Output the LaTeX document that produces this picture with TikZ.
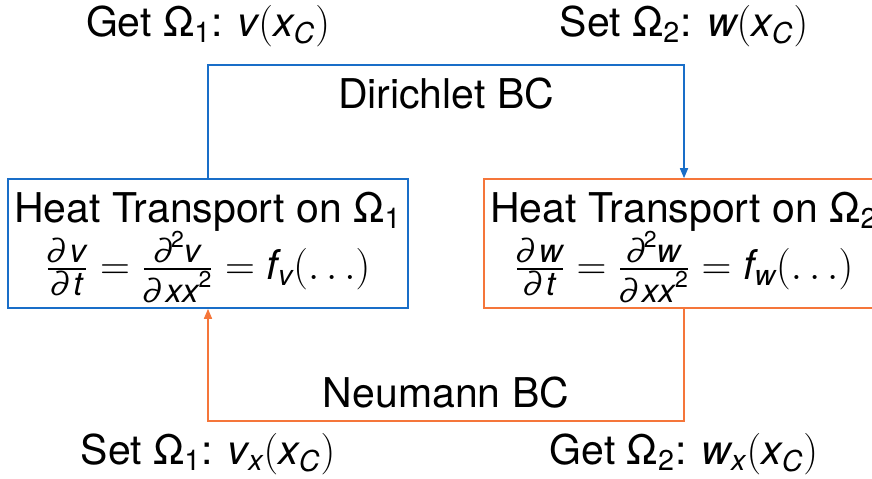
\documentclass[tikz,border=0pt]{standalone}
\usepackage{amsmath}
\usepackage{fontspec}
\setmainfont{TeX Gyre Heros}
\usetikzlibrary{arrows.meta}
\definecolor{bcblue}{RGB}{25,110,200}
\definecolor{bcorange}{RGB}{245,118,58}
% sans italic letters inside math
\newcommand\mv[1]{\text{\itshape #1}}
\newcommand\sub[1]{_{\text{#1}}}
% fraction parts in a slightly larger sans italic
\newcommand\fp[1]{\text{\fontsize{16.5}{18}\selectfont\itshape #1}}
\newcommand\sq{\raisebox{0.45em}{\fontsize{11.5}{12}\selectfont\upshape 2}}
\begin{document}
\begin{tikzpicture}[x=0.5pt,y=-0.5pt,
  every node/.style={font=\fontsize{20.5}{24}\selectfont},
  solver/.style={draw,line width=0.8pt,minimum width=200pt,minimum height=64.5pt,inner sep=0pt},
  solvertext/.style={inner sep=0pt,align=center},
  link/.style={line width=0.8pt,-{Triangle[length=5pt,width=4pt]}},
  lbl/.style={inner sep=0pt,anchor=base}]
\useasboundingbox (0,0) rectangle (872,478);
\clip (0,0) rectangle (872,478);
\fill[white] (0,0) rectangle (872,478);

% the two solver boxes
\node[solver,draw=bcblue] (h1) at (208,243.5) {};
\node[solver,draw=bcorange] (h2) at (684,243.5) {};
\node[solvertext] (h1t) at (208,247.5)
  {Heat Transport on Ω$\sub{1}$\\[-1pt]
   $\frac{\fp{∂\,v}}{\fp{∂\,t}}=\frac{\fp{∂\sq v}}{\fp{∂\,xx\sq}}=\mv{f}\sub{\itshape v}(\ldots)$};
\node[solvertext] (h2t) at (684,247.5)
  {Heat Transport on Ω$\sub{2}$\\[-1pt]
   $\frac{\fp{∂\,w}}{\fp{∂\,t}}=\frac{\fp{∂\sq w}}{\fp{∂\,xx\sq}}=\mv{f}\sub{\itshape w}(\ldots)$};

% coupling connectors
\coordinate (dtop) at (0,65);
\coordinate (nbot) at (0,421);
\draw[link,bcblue] (h1.north) |- (dtop -| h2.north) -- (h2.north);
\draw[link,bcorange] (h2.south) |- (nbot -| h1.south) -- (h1.south);

\node[lbl] (dir) at (446,108) {Dirichlet BC};
\node[lbl] (neu) at (446,407) {Neumann BC};

\node[lbl] (g1) at (208,36) {Get Ω$\sub{1}$: $\mv{v}(\mv{x}\sub{\itshape C})$};
\node[lbl] (s2) at (684,36) {Set Ω$\sub{2}$: $\mv{w}(\mv{x}\sub{\itshape C})$};
\node[lbl] (s1) at (208,464) {Set Ω$\sub{1}$: $\mv{v}\sub{\itshape x}(\mv{x}\sub{\itshape C})$};
\node[lbl] (g2) at (684,464) {Get Ω$\sub{2}$: $\mv{w}\sub{\itshape x}(\mv{x}\sub{\itshape C})$};
\end{tikzpicture}
\end{document}
